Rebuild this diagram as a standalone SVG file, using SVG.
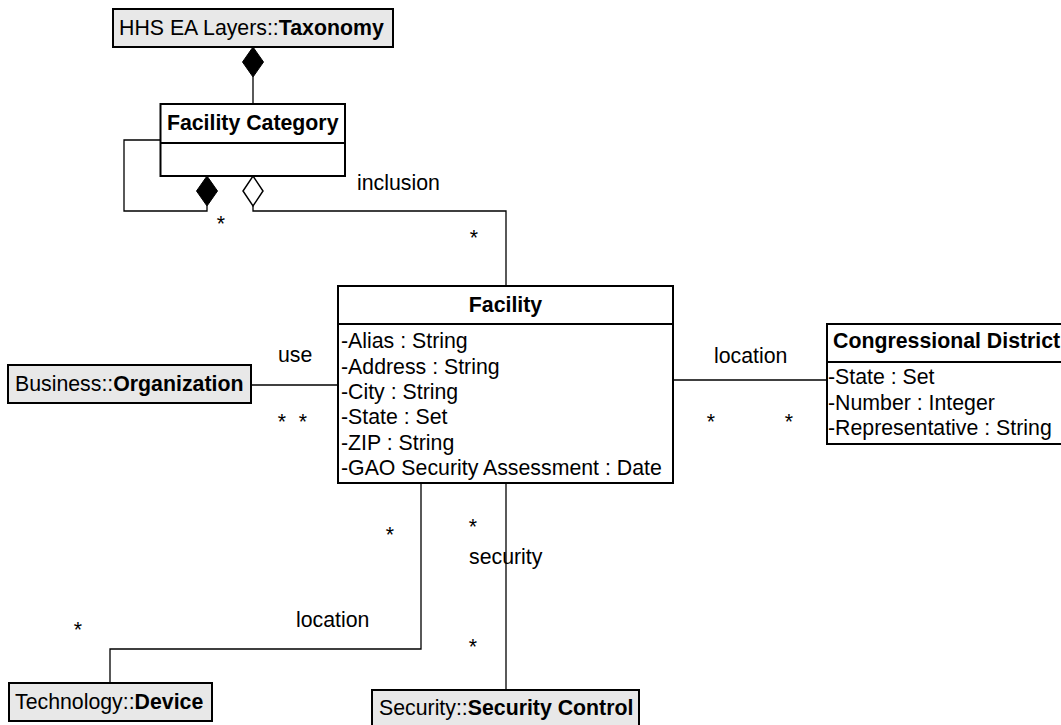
<svg xmlns="http://www.w3.org/2000/svg" width="1061" height="725" viewBox="0 0 1061 725">
<style>
text{font-family:"Liberation Sans",Arial,sans-serif;font-size:21.3px;fill:#000}
.b{font-weight:bold}
.box{fill:#fff;stroke:#000;stroke-width:2}
.ext{fill:#e8e8e8;stroke:#000;stroke-width:2}
.ln{fill:none;stroke:#000;stroke-width:1.3}
.fd{fill:#000;stroke:#000;stroke-width:1}
.hd{fill:#fff;stroke:#000;stroke-width:1.5}
.m{text-anchor:middle}
</style>
<rect width="1061" height="725" fill="#fff"/>
<g id="connectors">
  <line class="ln" x1="253" y1="77" x2="253" y2="104"/>
  <polygon class="fd" points="253,47 263.5,62 253,77 242.5,62"/>
  <polyline class="ln" points="160,140 124,140 124,211 207,211 207,206"/>
  <polygon class="fd" points="207,176 217.5,191 207,206 196.5,191"/>
  <polyline class="ln" points="253,206 253,211 506,211 506,286"/>
  <polygon class="hd" points="253,176 263,191 253,206 243,191"/>
  <text x="357" y="190">inclusion</text>
  <text class="m" x="221" y="231">*</text>
  <text class="m" x="474" y="245">*</text>
  <line class="ln" x1="251" y1="385" x2="338" y2="385"/>
  <text x="278" y="362">use</text>
  <text class="m" x="282" y="429">*</text>
  <text class="m" x="303" y="429">*</text>
  <line class="ln" x1="673" y1="380" x2="827" y2="380"/>
  <text x="714" y="363">location</text>
  <text class="m" x="711" y="429">*</text>
  <text class="m" x="789" y="429">*</text>
  <polyline class="ln" points="421,483 421,649 110,649 110,683"/>
  <text class="m" x="390" y="542">*</text>
  <text x="296" y="627">location</text>
  <text class="m" x="78" y="637">*</text>
  <line class="ln" x1="506" y1="483" x2="506" y2="690"/>
  <text class="m" x="473" y="534">*</text>
  <text x="469" y="564">security</text>
  <text class="m" x="473" y="654">*</text>
</g>
<g id="taxonomy">
  <rect class="ext" x="113" y="9" width="280" height="38"/>
  <text x="119" y="34.5">HHS EA Layers::<tspan class="b">Taxonomy</tspan></text>
</g>
<g id="facility-category">
  <rect class="box" x="160.5" y="104" width="184.5" height="72"/>
  <line class="ln" x1="160.5" y1="143" x2="345" y2="143" style="stroke-width:2"/>
  <text class="b m" x="252.7" y="129.5">Facility Category</text>
</g>
<g id="facility">
  <rect class="box" x="338" y="286" width="335" height="197"/>
  <line class="ln" x1="338" y1="324" x2="673" y2="324" style="stroke-width:2"/>
  <text class="b m" x="505.5" y="312">Facility</text>
  <text x="341" y="348.3">-Alias : String</text>
  <text x="341" y="373.7">-Address : String</text>
  <text x="341" y="399">-City : String</text>
  <text x="341" y="424.3">-State : Set</text>
  <text x="341" y="449.7">-ZIP : String</text>
  <text x="341" y="475">-GAO Security Assessment : Date</text>
</g>
<g id="congressional-district">
  <rect class="box" x="827" y="324" width="240" height="120"/>
  <line class="ln" x1="827" y1="362" x2="1067" y2="362" style="stroke-width:2"/>
  <text class="b" x="833" y="348">Congressional District</text>
  <text x="828" y="384">-State : Set</text>
  <text x="828" y="409.5">-Number : Integer</text>
  <text x="828" y="435">-Representative : String</text>
</g>
<g id="organization">
  <rect class="ext" x="8" y="365" width="243" height="38"/>
  <text x="15" y="391">Business::<tspan class="b">Organization</tspan></text>
</g>
<g id="device">
  <rect class="ext" x="9" y="683" width="203" height="38"/>
  <text x="15" y="709">Technology::<tspan class="b">Device</tspan></text>
</g>
<g id="security-control">
  <rect class="ext" x="372" y="690" width="267" height="38"/>
  <text x="379" y="715">Security::<tspan class="b">Security Control</tspan></text>
</g>
</svg>
